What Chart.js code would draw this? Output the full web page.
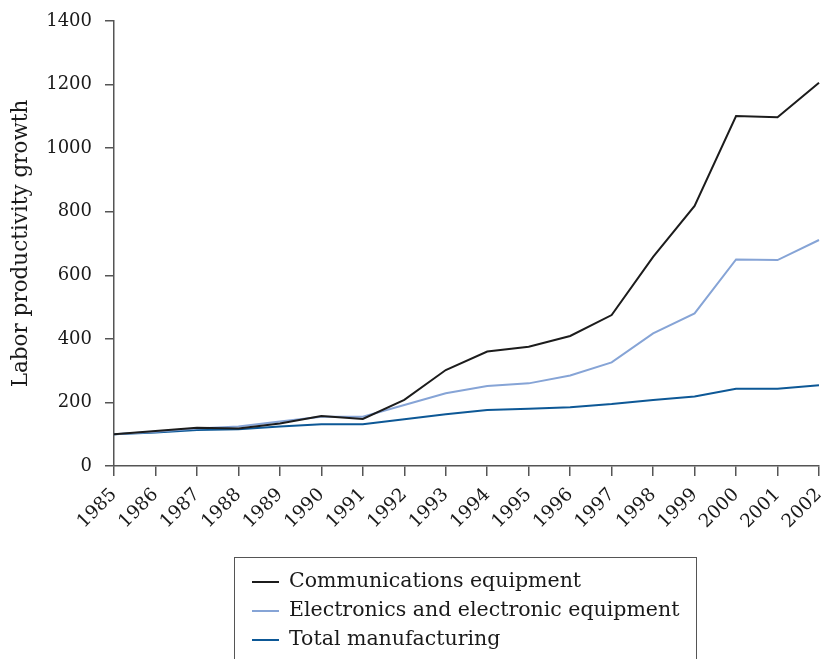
<!DOCTYPE html>
<html>
<head>
<meta charset="utf-8">
<script src="https://cdn.jsdelivr.net/npm/chart.js@4"></script>
<style>
  body { margin: 0; background: #fff; }
  #wrap { position: relative; width: 826px; height: 659px; }
  #legend {
    position: absolute; left: 234px; top: 557px; width: 463px; height: 110px;
    border: 1.5px solid #555; box-sizing: border-box;
    font-family: "DejaVu Serif", serif; font-size: 20.5px; color: #1a1a1a;
    padding: 8px 0 0 17px;
  }
  .item { height: 29px; line-height: 29px; white-space: nowrap; }
  .swatch { display: inline-block; width: 27px; height: 0; border-top: 2px solid; vertical-align: middle; margin-right: 10px; }
</style>
</head>
<body>
<div id="wrap">
  <canvas id="chart" width="826" height="659"></canvas>
  <div id="legend"></div>
</div>
<script>
const years = ["1985","1986","1987","1988","1989","1990","1991","1992","1993","1994","1995","1996","1997","1998","1999","2000","2001","2002"];
const commEquip = [100, 110, 120, 118, 134, 157, 148, 208, 302, 360, 375, 409, 475, 658, 818, 1101, 1097, 1206];
const electronics = [100, 108, 118, 124, 140, 155, 155, 192, 229, 252, 260, 285, 326, 417, 480, 650, 648, 711];
const totalMfg = [100, 105, 113, 116, 124, 131, 131, 147, 163, 176, 180, 185, 195, 208, 219, 243, 243, 254];
const yTicks = [0, 200, 400, 600, 800, 1000, 1200, 1400];

const font = "DejaVu Serif";

function series(label, data, color) {
    return {
        label: label,
        data: data,
        borderColor: color,
        backgroundColor: color,
        borderWidth: 2,
        pointRadius: 0,
        tension: 0,
        fill: false
    };
}

let chart = new Chart(document.getElementById("chart"), {
    type: 'line',
    data: {
        labels: years,
        datasets: [
            series("Communications equipment", commEquip, "#1c1c1c"),
            series("Electronics and electronic equipment", electronics, "#86a4d6"),
            series("Total manufacturing", totalMfg, "#0d5896")
        ]
    },
    options: {
        responsive: false,
        animation: false,
        layout: { padding: { left: 0, right: 7, top: 21, bottom: 113 } },
        plugins: { legend: { display: false }, tooltip: { enabled: false } },
        scales: {
            x: {
                offset: false,
                border: { color: "#555", width: 1.5 },
                grid: { drawOnChartArea: false, color: "#555", lineWidth: 1.5, tickLength: 10 },
                ticks: { color: "#1a1a1a", font: { family: font, size: 18.5 }, maxRotation: 45, minRotation: 45, autoSkip: false, padding: 8 },
                afterFit: function (scale) {
                    scale.height = 80;
                    scale.paddingLeft = 0;
                    scale.paddingRight = 0;
                }
            },
            y: {
                min: 0,
                max: 1400,
                border: { color: "#555", width: 1.5 },
                grid: { drawOnChartArea: false, color: "#555", lineWidth: 1.5, tickLength: 9 },
                ticks: {
                    color: "#1a1a1a", font: { family: font, size: 18 }, padding: 13,
                    callback: function (v) { return String(v); }
                },
                afterBuildTicks: function (scale) { scale.ticks = yTicks.map(v => ({ value: v })); },
                title: { display: true, text: "Labor productivity growth", color: "#1a1a1a", font: { family: font, size: 21.5 }, padding: { top: 9, bottom: 0 } },
                afterFit: function (scale) {
                    scale.width = 114;
                    scale.paddingTop = 0;
                }
            }
        }
    }
});

let legend = document.getElementById("legend");
chart.data.datasets.forEach(function (ds) {
    let row = document.createElement("div");
    row.className = "item";
    row.innerHTML = '<span class="swatch" style="border-color:' + ds.borderColor + '"></span>' + ds.label;
    legend.appendChild(row);
});
</script>
</body>
</html>
